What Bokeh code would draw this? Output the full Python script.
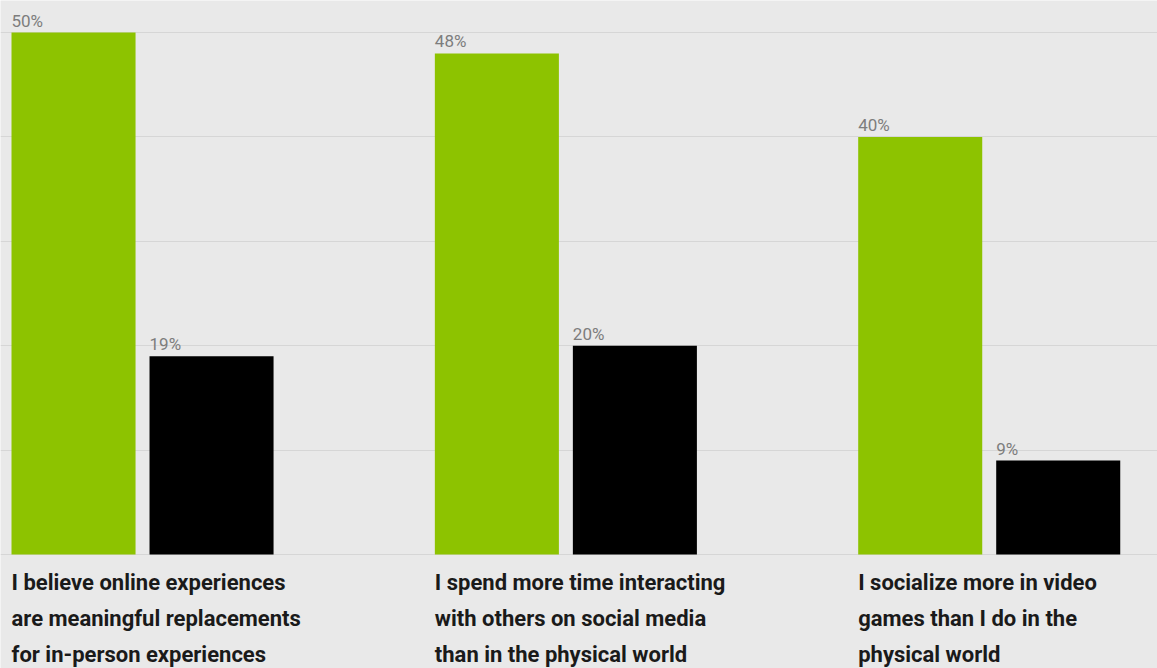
from bokeh.plotting import figure
from bokeh.models import ColumnDataSource, FixedTicker, Range1d
from bokeh.core.properties import value
from bokeh.transform import dodge
from bokeh.embed import file_html
from bokeh.resources import INLINE

categories = [
    "I believe online experiences\nare meaningful replacements\nfor in-person experiences",
    "I spend more time interacting\nwith others on social media\nthan in the physical world",
    "I socialize more in video\ngames than I do in the\nphysical world",
]
green_values = [50, 48, 40]
black_values = [19, 20, 9]
grid_ticks = [0, 10, 20, 30, 40, 50]

GREEN = "#8dc300"
BG = "#e9e9e9"
BAR_W = 0.293
OFF = 0.163

idx = list(range(len(categories)))
src = ColumnDataSource(dict(
    x=idx,
    green=green_values,
    black=black_values,
    glab=[f"{v}%" for v in green_values],
    blab=[f"{v}%" for v in black_values],
    cat=categories,
))

W, H = 1157, 668
p = figure(width=W, height=H, output_backend="svg", toolbar_location=None,
           x_range=Range1d(-0.3355, 2.3975), y_range=Range1d(-10.92, 53.07),
           min_border=0, min_border_left=0, min_border_right=0,
           min_border_top=0, min_border_bottom=0)
p.background_fill_color = BG
p.border_fill_color = BG
p.outline_line_color = None
p.xaxis.visible = False
p.yaxis.visible = False
p.xgrid.visible = False
p.ygrid.ticker = FixedTicker(ticks=grid_ticks)
p.ygrid.grid_line_color = "#d6d6d6"
p.ygrid.grid_line_width = 1

p.vbar(x=dodge("x", -OFF, range=p.x_range), top="green", bottom=0, width=BAR_W,
       source=src, fill_color=GREEN, line_color=None)
p.vbar(x=dodge("x", OFF, range=p.x_range), top="black", bottom=0, width=BAR_W,
       source=src, fill_color="#000000", line_color=None)

lab_font = value("Roboto")
p.text(x=dodge("x", -OFF - BAR_W / 2, range=p.x_range), y="green", text="glab", source=src,
       text_font=lab_font, text_font_size="17px", text_color="#7d7d7d",
       text_align="left", text_baseline="bottom", y_offset=-2)
p.text(x=dodge("x", OFF - BAR_W / 2, range=p.x_range), y="black", text="blab", source=src,
       text_font=lab_font, text_font_size="17px", text_color="#7d7d7d",
       text_align="left", text_baseline="bottom", y_offset=-2)

p.text(x=dodge("x", -OFF - BAR_W / 2, range=p.x_range), y=0, text="cat", source=src,
       text_font=lab_font, text_font_style="bold", text_font_size="22px",
       text_color="#1a1a1a", text_align="left", text_baseline="top",
       text_line_height=1.45, y_offset=15)

open("out.html", "w").write(file_html(p, INLINE))
